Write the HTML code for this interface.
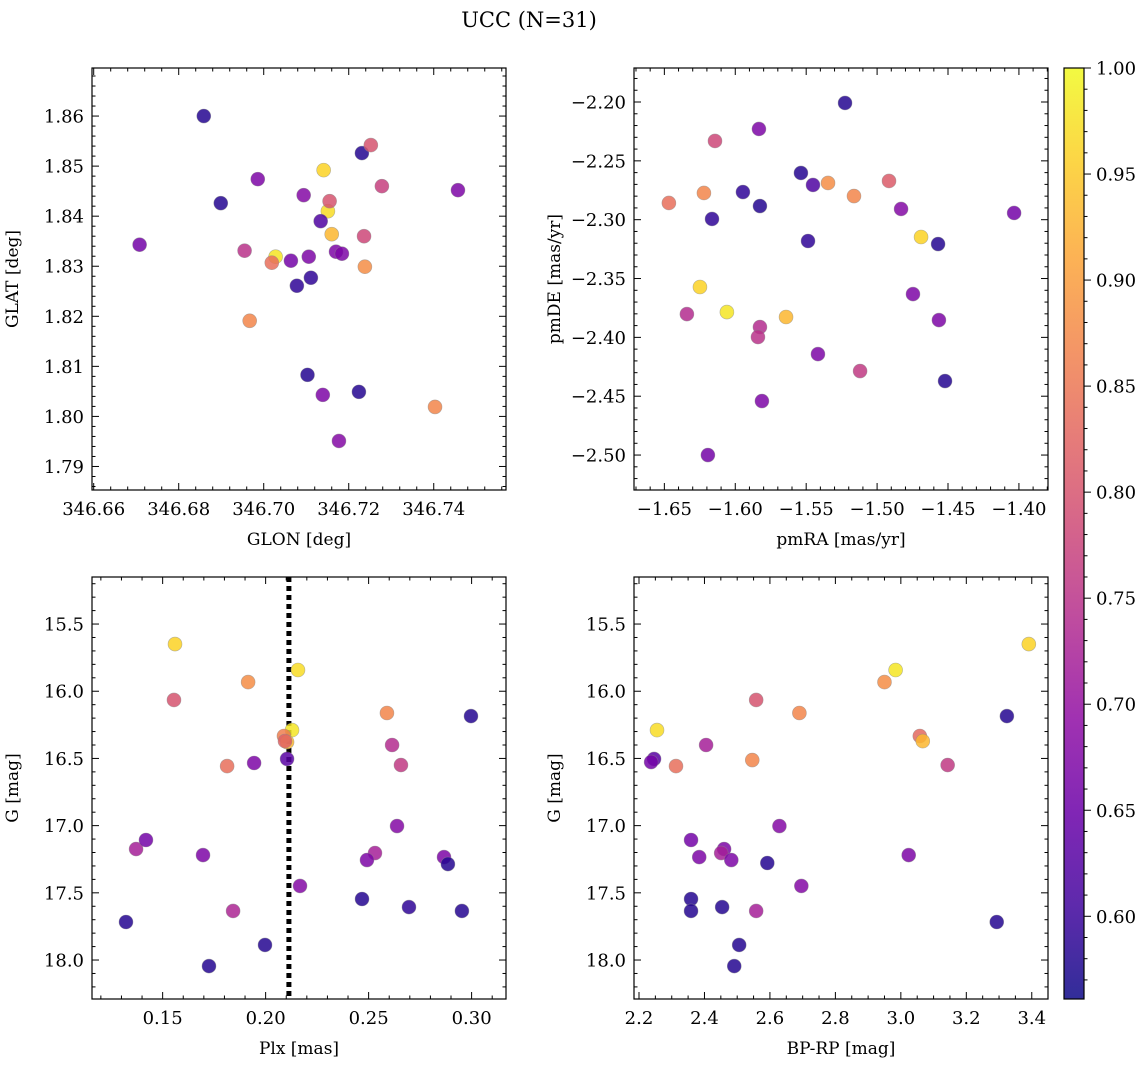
<!DOCTYPE html>
<html><head><meta charset="utf-8"><style>
body{margin:0;background:#fff}
svg{display:block;font-family:"DejaVu Serif","Liberation Serif",serif}
</style></head><body>
<svg id="fig" width="1148" height="1067" viewBox="0 0 1148 1067" xmlns="http://www.w3.org/2000/svg">
<rect width="1148" height="1067" fill="#fff"/>
<text x="529" y="27" font-size="21" text-anchor="middle">UCC (N=31)</text>
</svg>
<script>
// ---- Panel 1: GLON vs GLAT ----
const glon = [346.6859,346.6899,346.6708,346.6986,346.6955,346.7028,346.7019,346.7064,346.6967,346.7078,346.7111,346.7094,346.7106,346.7141,346.7151,346.7155,346.7134,346.7160,346.7170,346.7184,346.7231,346.7252,346.7236,346.7238,346.7278,346.7103,346.7139,346.7224,346.7177,346.7403,346.7457];
const glat = [1.8600,1.8426,1.8343,1.8474,1.8331,1.8319,1.8307,1.8311,1.8191,1.8261,1.8277,1.8442,1.8319,1.8492,1.8410,1.8430,1.8390,1.8364,1.8329,1.8325,1.8526,1.8542,1.8360,1.8299,1.8460,1.8083,1.8043,1.8049,1.7951,1.8019,1.8452];
const prob1 = [0.58,0.58,0.66,0.67,0.75,0.98,0.84,0.66,0.87,0.59,0.59,0.68,0.67,0.96,0.97,0.80,0.62,0.93,0.67,0.67,0.58,0.80,0.78,0.88,0.77,0.58,0.67,0.58,0.68,0.87,0.67];
// ---- Panel 2: pmRA vs pmDE ----
const pmra = [-1.5226,-1.5833,-1.6143,-1.6468,-1.6221,-1.6164,-1.5946,-1.5826,-1.5537,-1.5452,-1.5346,-1.5163,-1.4916,-1.4831,-1.5487,-1.4690,-1.4570,-1.4034,-1.6249,-1.6341,-1.6059,-1.5642,-1.5826,-1.5840,-1.4747,-1.4564,-1.5417,-1.5120,-1.4521,-1.5812,-1.6193];
const pmde = [-2.2008,-2.2229,-2.2331,-2.2858,-2.2773,-2.2994,-2.2765,-2.2884,-2.2603,-2.2705,-2.2688,-2.2799,-2.2671,-2.2909,-2.3181,-2.3147,-2.3207,-2.2943,-2.3572,-2.3802,-2.3785,-2.3827,-2.3912,-2.3997,-2.3632,-2.3853,-2.4142,-2.4286,-2.4371,-2.4541,-2.5000];
const prob2 = [0.58,0.67,0.78,0.84,0.87,0.59,0.59,0.58,0.58,0.62,0.88,0.87,0.81,0.68,0.59,0.96,0.58,0.66,0.96,0.74,0.98,0.93,0.74,0.75,0.67,0.67,0.67,0.76,0.58,0.67,0.66];
// ---- Panel 3: Plx vs G ----
const plx = [0.1560,0.1915,0.2157,0.1555,0.2128,0.2589,0.2997,0.2089,0.2104,0.2104,0.1813,0.1944,0.2614,0.2657,0.2638,0.1371,0.1419,0.1696,0.2531,0.2492,0.2866,0.2885,0.2167,0.1842,0.2468,0.2696,0.1322,0.2953,0.1997,0.1725,0.2094];
const gmag3 = [15.649,15.932,15.842,16.065,16.289,16.162,16.185,16.333,16.378,16.504,16.557,16.534,16.400,16.549,17.003,17.174,17.107,17.219,17.204,17.256,17.234,17.286,17.449,17.635,17.546,17.606,17.717,17.635,17.888,18.045,16.371];
const prob3 = [0.96,0.88,0.97,0.80,0.98,0.87,0.58,0.86,0.93,0.63,0.84,0.67,0.74,0.76,0.68,0.72,0.66,0.67,0.72,0.67,0.67,0.58,0.68,0.73,0.58,0.59,0.58,0.58,0.58,0.58,0.82];
const plxLine = 0.2113;
// ---- Panel 4: BP-RP vs G ----
const bprp = [3.391,2.984,2.950,2.255,2.690,2.558,3.324,2.546,3.058,3.067,2.246,2.237,2.313,2.405,3.143,2.629,2.359,2.384,2.460,2.451,2.482,2.592,3.024,2.696,2.359,2.454,2.558,2.359,3.293,2.506,2.491];
const gmag4 = [15.649,15.842,15.932,16.289,16.162,16.065,16.185,16.512,16.333,16.371,16.504,16.527,16.557,16.400,16.549,17.003,17.107,17.234,17.174,17.204,17.256,17.278,17.219,17.449,17.546,17.606,17.635,17.635,17.717,17.888,18.045];
const prob4 = [0.96,0.98,0.88,0.97,0.87,0.80,0.58,0.87,0.83,0.93,0.63,0.66,0.84,0.72,0.76,0.68,0.66,0.67,0.67,0.72,0.67,0.58,0.67,0.68,0.58,0.58,0.72,0.58,0.58,0.58,0.58];
// ---- tick labels ----
const ticks1x = [346.66,346.68,346.70,346.72,346.74];
const ticks1y = [1.79,1.80,1.81,1.82,1.83,1.84,1.85,1.86];
const ticks2x = [-1.65,-1.60,-1.55,-1.50,-1.45,-1.40];
const ticks2y = [-2.50,-2.45,-2.40,-2.35,-2.30,-2.25,-2.20];
const ticks3x = [0.15,0.20,0.25,0.30];
const ticksGy = [15.5,16.0,16.5,17.0,17.5,18.0];
const ticks4x = [2.2,2.4,2.6,2.8,3.0,3.2,3.4];
const cbTicks = [0.60,0.65,0.70,0.75,0.80,0.85,0.90,0.95,1.00];
const vmin = 0.561, vmax = 1.0;

const TF = 18, LF = 17;
const NS = "http://www.w3.org/2000/svg";
const svg = document.getElementById('fig');
function mk(tag, attrs, parent){ const e=document.createElementNS(NS,tag); for(const k in attrs) e.setAttribute(k,attrs[k]); (parent||svg).appendChild(e); return e; }
const stops = [[0,13,8,135],[0.1,65,4,157],[0.2,106,0,168],[0.3,143,13,164],[0.4,177,42,144],[0.5,204,71,120],[0.6,225,100,98],[0.7,242,132,75],[0.8,252,166,54],[0.9,252,206,37],[1,240,249,33]];
function plasma(t){ t=Math.max(0,Math.min(1,t)); for(let i=1;i<stops.length;i++){ if(t<=stops[i][0]){ const a=stops[i-1],b=stops[i],f=(t-a[0])/(b[0]-a[0]); return `rgb(${Math.round(a[1]+f*(b[1]-a[1]))},${Math.round(a[2]+f*(b[2]-a[2]))},${Math.round(a[3]+f*(b[3]-a[3]))})`; } } return 'rgb(240,249,33)'; }

function panel(o){
  const g = mk('g',{});
  
  
  const sx = v => o.x0 + (v-o.xmin)/(o.xmax-o.xmin)*(o.x1-o.x0);
  const sy = v => o.y1 - (v-o.ymin)/(o.ymax-o.ymin)*(o.y1-o.y0);
  const tk = mk('g',{stroke:'#000','stroke-width':1},g);
  
  
  const start = Math.ceil(o.xmin/o.xminor-1e-6);
  for(let i=start; i*o.xminor<=o.xmax+1e-9; i++){ const v=i*o.xminor; const X=sx(v); const major=Math.abs(v/o.xmajor-Math.round(v/o.xmajor))<1e-4; const L=major?7:3.5;
    mk('line',{x1:X,x2:X,y1:o.y1,y2:o.y1-L},tk); mk('line',{x1:X,x2:X,y1:o.y0,y2:o.y0+L},tk); }
  const starty = Math.ceil(o.ymin/o.yminor-1e-6);
  for(let i=starty; i*o.yminor<=o.ymax+1e-9; i++){ const v=i*o.yminor; const Y=sy(v); const major=Math.abs(v/o.ymajor-Math.round(v/o.ymajor))<1e-4; const L=major?7:3.5;
    mk('line',{y1:Y,y2:Y,x1:o.x0,x2:o.x0+L},tk); mk('line',{y1:Y,y2:Y,x1:o.x1,x2:o.x1-L},tk); }
  o.xticks.forEach(v=>{ const t=mk('text',{x:sx(v),y:o.y1+25,'font-size':TF,'text-anchor':'middle'},g); t.textContent=v.toFixed(o.xdec).replace('-','\u2212');
      });
  o.yticks.forEach(v=>{ const t=mk('text',{x:o.x0-8,y:sy(v)+6.5,'font-size':TF,'text-anchor':'end'},g); t.textContent=v.toFixed(o.ydec).replace('-','\u2212');
      });
  const xl=mk('text',{x:(o.x0+o.x1)/2,y:o.y1+55,'font-size':LF,'text-anchor':'middle'},g); xl.textContent=o.xlabel;
   
  const yx=o.x0-74, yy=(o.y0+o.y1)/2;
  const yl=mk('text',{x:yx,y:yy,'font-size':LF,'text-anchor':'middle',transform:`rotate(-90 ${yx} ${yy})`},g); yl.textContent=o.ylabel;
   
  if(o.vline!==undefined){ const ln=mk('line',{x1:sx(o.vline),x2:sx(o.vline),y1:o.y0,y2:o.y1,stroke:'#000','stroke-width':5,'stroke-dasharray':'5 4'},g);
      }
  o.xs.forEach((xv,i)=>{ const c=mk('circle',{cx:sx(xv),cy:sy(o.ys[i]),r:7,fill:plasma((o.cs[i]-vmin)/(vmax-vmin)),'fill-opacity':0.85,stroke:'#888','stroke-opacity':0.6,'stroke-width':0.6},g);
      });
  const fr=mk('rect',{x:o.x0,y:o.y0,width:o.x1-o.x0,height:o.y1-o.y0,fill:'none',stroke:'#000','stroke-width':1.2},g);
   
}

panel({name:'glon-glat-panel',x0:92,x1:506,y0:68,y1:490,xmin:346.6596,xmax:346.7570,ymin:1.7853,ymax:1.8696,xmajor:0.02,xminor:0.004,ymajor:0.01,yminor:0.002,xticks:ticks1x,yticks:ticks1y,xdec:2,ydec:2,xlabel:'GLON [deg]',ylabel:'GLAT [deg]',xs:glon,ys:glat,cs:prob1});
panel({name:'pm-panel',x0:634,x1:1048,y0:68,y1:490,xmin:-1.6714,xmax:-1.3795,ymin:-2.5297,ymax:-2.1711,xmajor:0.05,xminor:0.01,ymajor:0.05,yminor:0.01,xticks:ticks2x,yticks:ticks2y,xdec:2,ydec:2,xlabel:'pmRA [mas/yr]',ylabel:'pmDE [mas/yr]',xs:pmra,ys:pmde,cs:prob2});
panel({name:'plx-g-panel',x0:92,x1:506,y0:577,y1:999,xmin:0.1157,xmax:0.3167,ymin:-18.290,ymax:-15.150,xmajor:0.05,xminor:0.01,ymajor:0.5,yminor:0.1,xticks:ticks3x,yticks:[],xdec:2,ydec:1,xlabel:'Plx [mas]',ylabel:'G [mag]',xs:plx,ys:gmag3.map(v=>-v),cs:prob3,vline:plxLine});
panel({name:'cmd-panel',x0:634,x1:1048,y0:577,y1:999,xmin:2.1847,xmax:3.4496,ymin:-18.290,ymax:-15.150,xmajor:0.2,xminor:0.05,ymajor:0.5,yminor:0.1,xticks:ticks4x,yticks:[],xdec:1,ydec:1,xlabel:'BP-RP [mag]',ylabel:'G [mag]',xs:bprp,ys:gmag4.map(v=>-v),cs:prob4});
[[92],[634]].forEach(([x0])=>{ ticksGy.forEach(v=>{ const Y=999-(-v+18.290)/(18.290-15.150)*422; const t=mk('text',{x:x0-8,y:Y+6.5,'font-size':TF,'text-anchor':'end'}); t.textContent=v.toFixed(1);
    }); });

const cb = mk('g',{});


const defs=mk('defs',{},cb); const lg=mk('linearGradient',{id:'cbg',x1:0,y1:1,x2:0,y2:0},defs);
for(let i=0;i<=20;i++){ const t=i/20; mk('stop',{offset:t,'stop-color':plasma(t),'stop-opacity':0.85},lg); }
const cby0=68, cby1=999, cbx0=1064, cbx1=1084;
mk('rect',{x:cbx0,y:cby0,width:cbx1-cbx0,height:cby1-cby0,fill:'url(#cbg)',stroke:'#000','stroke-width':1.2},cb);
const cbs = v => cby1-(v-vmin)/(vmax-vmin)*(cby1-cby0);
for(let v=0.57; v<=1.0001; v+=0.01){ const Y=cbs(v); const major=Math.abs(v*20-Math.round(v*20))<1e-4; const L=major?7:3.5;
  mk('line',{x1:cbx1,x2:cbx1+L,y1:Y,y2:Y,stroke:'#000','stroke-width':1},cb); }
cbTicks.forEach(v=>{ const t=mk('text',{x:1096,y:cbs(v)+6.5,'font-size':TF},cb); t.textContent=v.toFixed(2);
    });
</script>
</body></html>
